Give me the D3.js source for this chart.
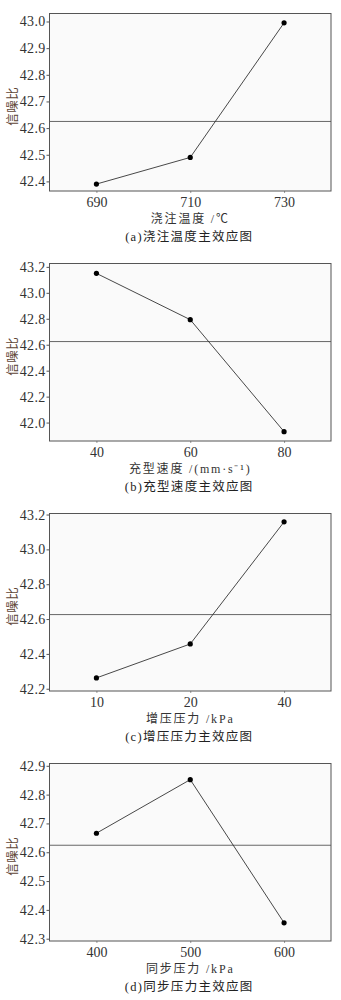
<!DOCTYPE html>
<html>
<head>
<meta charset="utf-8">
<script src="https://cdn.jsdelivr.net/npm/d3@7"></script>
<style>
  body { margin: 0; background: #fff; }
  svg text { font-family: "Liberation Serif", "Noto Sans CJK SC", serif; }
</style>
</head>
<body>
<script>
// main effect plots, one panel per factor
var levelsA = ["690", "710", "730"];
var valuesA = [42.39, 42.49, 42.995];
var ticksA = [42.4, 42.5, 42.6, 42.7, 42.8, 42.9, 43.0];
var domainA = [42.364, 43.03];

var levelsB = ["40", "60", "80"];
var valuesB = [43.15, 42.793, 41.93];
var ticksB = [42.0, 42.2, 42.4, 42.6, 42.8, 43.0, 43.2];
var domainB = [41.858, 43.226];

var levelsC = ["10", "20", "40"];
var valuesC = [42.262, 42.457, 43.158];
var ticksC = [42.2, 42.4, 42.6, 42.8, 43.0, 43.2];
var domainC = [42.187, 43.206];

var levelsD = ["400", "500", "600"];
var valuesD = [42.666, 42.852, 42.355];
var ticksD = [42.3, 42.4, 42.5, 42.6, 42.7, 42.8, 42.9];
var domainD = [42.292, 42.908];

var xTitles = ["浇注温度 /℃", "充型速度 /(mm·s⁻¹)", "增压压力 /kPa", "同步压力 /kPa"];
var captions = ["(a)浇注温度主效应图", "(b)充型速度主效应图", "(c)增压压力主效应图", "(d)同步压力主效应图"];
var yTitle = "信噪比";

var panels = [
    {levels: levelsA, values: valuesA, ticks: ticksA, domain: domainA},
    {levels: levelsB, values: valuesB, ticks: ticksB, domain: domainB},
    {levels: levelsC, values: valuesC, ticks: ticksC, domain: domainC},
    {levels: levelsD, values: valuesD, ticks: ticksD, domain: domainD}
];

var w = 341, h = 1000;
var panelH = 250;
// plot box inside each 250px strip
var boxL = 49.5, boxR = 331, boxT = 13.5, boxB = 191;

var svg = d3.select("body").append("svg")
    .attr("width", w)
    .attr("height", h);

panels.forEach(function(p, i) {
    var g = svg.append("g").attr("transform", "translate(0," + (i * panelH) + ")");

    var x = d3.scalePoint().domain(p.levels).range([boxL, boxR]).padding(0.5);
    var y = d3.scaleLinear().domain(p.domain).range([boxB, boxT]);

    // panel background
    g.append("rect")
        .attr("x", boxL).attr("y", boxT)
        .attr("width", boxR - boxL).attr("height", boxB - boxT)
        .attr("fill", "#fafafa");

    // grand mean line
    var m = d3.mean(p.values);
    g.append("line")
        .attr("x1", boxL).attr("x2", boxR)
        .attr("y1", y(m)).attr("y2", y(m))
        .attr("stroke", "#666")
        .attr("stroke-width", 1);

    // y axis
    var yAxis = g.append("g")
        .attr("transform", "translate(" + boxL + ",0)")
        .call(d3.axisLeft(y).tickValues(p.ticks).tickSize(3).tickPadding(1).tickFormat(d3.format(".1f")));
    yAxis.select(".domain").remove();
    yAxis.selectAll("line").attr("stroke", "#555");
    yAxis.selectAll("text").attr("font-size", "14px").attr("fill", "#333")
        .style("letter-spacing", "0.3px");

    // x axis
    var xAxis = g.append("g")
        .attr("transform", "translate(0," + boxB + ")")
        .call(d3.axisBottom(x).tickSize(2).tickPadding(4));
    xAxis.select(".domain").remove();
    xAxis.selectAll("line").attr("stroke", "#999");
    xAxis.selectAll("text").attr("font-size", "14px").attr("fill", "#333");

    // line + points
    var line = d3.line()
        .x(function(d, j) { return x(p.levels[j]); })
        .y(function(d) { return y(d); });
    g.append("path")
        .datum(p.values)
        .attr("d", line)
        .attr("fill", "none")
        .attr("stroke", "#333")
        .attr("stroke-width", 0.9);
    g.selectAll("circle")
        .data(p.values)
        .enter()
        .append("circle")
        .attr("cx", function(d, j) { return x(p.levels[j]); })
        .attr("cy", function(d) { return y(d); })
        .attr("r", 2.6)
        .attr("fill", "#000");

    // border
    g.append("rect")
        .attr("x", boxL).attr("y", boxT)
        .attr("width", boxR - boxL).attr("height", boxB - boxT)
        .attr("fill", "none")
        .attr("stroke", "#555")
        .attr("stroke-width", 1);

    // titles
    g.append("text")
        .attr("transform", "translate(12.5," + ((boxT + boxB) / 2 + 4) + ") rotate(-90)")
        .attr("text-anchor", "middle")
        .attr("dominant-baseline", "central")
        .attr("font-size", "12.5px")
        .attr("fill", "#5e4536")
        .style("letter-spacing", "0.5px")
        .text(yTitle);

    g.append("text")
        .attr("x", (boxL + boxR) / 2)
        .attr("y", 222.5)
        .attr("text-anchor", "middle")
        .attr("font-size", "12px")
        .attr("fill", "#333")
        .style("letter-spacing", "1.8px")
        .text(xTitles[i]);

    g.append("text")
        .attr("x", (boxL + boxR) / 2 - 1)
        .attr("y", 241)
        .attr("text-anchor", "middle")
        .attr("font-size", "12.5px")
        .attr("fill", "#222")
        .style("letter-spacing", "1.3px")
        .text(captions[i]);
});
</script>
</body>
</html>
